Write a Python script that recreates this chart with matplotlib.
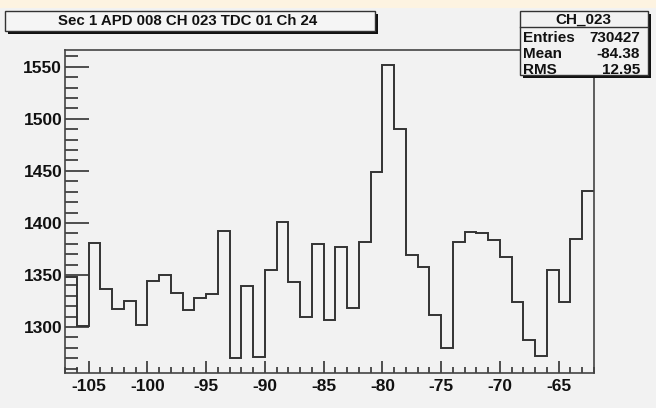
import matplotlib
matplotlib.use("Agg")
import numpy as np
from matplotlib import pyplot as plt
from matplotlib.patches import Rectangle
from matplotlib.ticker import MultipleLocator

# bin contents, 1-unit bins from -107 to -62
bin_low = -107
bin_high = -62
counts = [1348, 1301, 1381, 1337, 1317, 1325, 1302, 1344, 1350, 1333,
          1316, 1328, 1332, 1392, 1270, 1339, 1271, 1355, 1401, 1343,
          1310, 1380, 1307, 1377, 1318, 1382, 1449, 1552, 1490, 1369,
          1358, 1312, 1280, 1382, 1391, 1390, 1384, 1367, 1324, 1288,
          1272, 1355, 1324, 1385, 1431]

title = "Sec 1 APD 008 CH 023 TDC 01 Ch 24"
stats_name = "CH_023"
stats_rows = [("Entries", "730427"), ("Mean", "-84.38"), ("RMS", "12.95")]

W, H = 656, 408
plt.rcParams['font.family'] = ['Liberation Sans', 'DejaVu Sans']
plt.rcParams['font.weight'] = 'bold'
plt.rcParams['axes.unicode_minus'] = False

fig = plt.figure(figsize=(W / 100, H / 100), dpi=100, facecolor='#f2f2f2')


def fx(x):
    return x / W


def fy(y):
    return 1 - y / H


def box(x0, y0, x1, y1, fc):
    # ROOT style pave: dark shadow offset down-right, then the box itself
    fig.add_artist(Rectangle((fx(x0 + 3), fy(y1 + 3)), fx(x1 - x0), (y1 - y0) / H,
                             transform=fig.transFigure, facecolor='#111111',
                             edgecolor='none', zorder=5))
    fig.add_artist(Rectangle((fx(x0), fy(y1)), fx(x1 - x0), (y1 - y0) / H,
                             transform=fig.transFigure, facecolor=fc,
                             edgecolor='#333333', linewidth=1.0, zorder=6))


# cream strip along the top edge
fig.add_artist(Rectangle((0, fy(8)), 1, 8 / H, transform=fig.transFigure,
                         facecolor='#fdf3e1', edgecolor='none', zorder=0))

ax = fig.add_axes([fx(65), fy(373), fx(594 - 65), (373 - 50) / H])
ax.set_facecolor('#f2f2f2')

edges = np.arange(bin_low, bin_high + 1)
ax.stairs(counts, edges, color='#333333', linewidth=1.4, baseline=None)

cmin, cmax = min(counts), max(counts)
margin = 0.05 * (cmax - cmin)
ax.set_xlim(bin_low, bin_high)
ax.set_ylim(cmin - margin, cmax + margin)

ax.xaxis.set_major_locator(MultipleLocator(5))
ax.xaxis.set_minor_locator(MultipleLocator(1))
ax.yaxis.set_major_locator(MultipleLocator(50))
ax.yaxis.set_minor_locator(MultipleLocator(10))
ax.tick_params(which='both', direction='in', color='#333333', width=1.2,
               top=False, right=False, labelsize=12.5, labelcolor='#111111')
ax.tick_params(axis='x', which='major', length=9, pad=4)
ax.tick_params(axis='x', which='minor', length=4.5)
ax.tick_params(axis='y', which='major', length=17, pad=2)
ax.tick_params(axis='y', which='minor', length=9)
for side in ax.spines.values():
    side.set_color('#444444')
    side.set_linewidth(1.2)

# title pave
box(5, 11, 375, 31, '#f5f5f5')
fig.text(fx(188), fy(21), title, ha='center', va='center',
         fontsize=10.8, fontweight='bold', color='#111111', zorder=7)

# statistics pave
box(520, 11, 648, 75, '#f2f2f2')
fig.add_artist(plt.Line2D([fx(520), fx(648)], [fy(27), fy(27)],
                          transform=fig.transFigure, color='#333333',
                          linewidth=1.0, zorder=7))
fig.text(fx(583), fy(20), stats_name, ha='center', va='center',
         fontsize=11, fontweight='bold', color='#111111', zorder=7)
for i, (key, val) in enumerate(stats_rows):
    y = 37.5 + i * 16.5
    fig.text(fx(523), fy(y), key, ha='left', va='center',
             fontsize=11, fontweight='bold', color='#111111', zorder=7)
    fig.text(fx(640), fy(y), val, ha='right', va='center',
             fontsize=11, fontweight='bold', color='#111111', zorder=7)

fig.savefig('out.png', dpi=100, facecolor=fig.get_facecolor())
